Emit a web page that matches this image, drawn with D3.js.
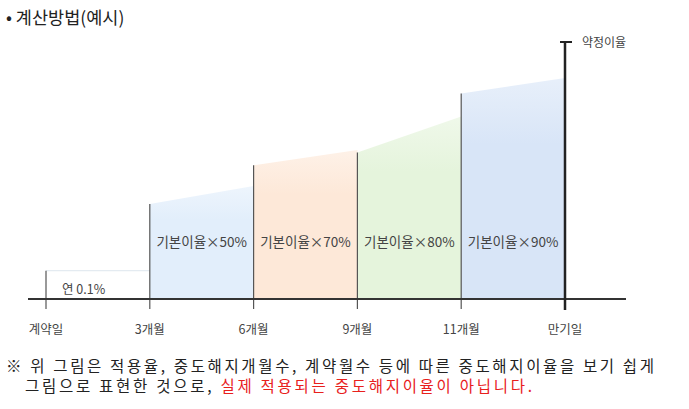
<!DOCTYPE html><html><head><meta charset="utf-8"><script src="https://cdn.jsdelivr.net/npm/d3@7"></script>
<style>body{margin:0;background:#fff}</style></head><body><svg id="c" width="689" height="409"></svg>
<script>
const ticks=["계약일","3개월","6개월","9개월","11개월","만기일"];
const segStart=[0.11,0.37,0.52,0.57,0.80];
const segEnd=[0.11,0.44,0.58,0.71,0.86];
const labels=["연 0.1%","기본이율×50%","기본이율×70%","기본이율×80%","기본이율×90%"];
const colors=["#ffffff","#e2eefb","#fde8d8","#e5f4dc","#d8e5f7"];
const svg=d3.select("#c");
const font="'Noto Sans CJK KR','Noto Sans',sans-serif";
const x=d3.scalePoint().domain(ticks).range([46,565]);
const y=d3.scaleLinear().domain([0,1]).range([299,42]);
const defs=svg.append("defs");
colors.forEach((c,i)=>{const g=defs.append("linearGradient").attr("id","g"+i).attr("x1",0).attr("y1",0).attr("x2",0).attr("y2",1);
g.append("stop").attr("offset",0).attr("stop-color",c).attr("stop-opacity",0.6);g.append("stop").attr("offset",0.3).attr("stop-color",c);g.append("stop").attr("offset",1).attr("stop-color",c);});
for(let i=0;i<5;i++){
 const x0=x(ticks[i]),x1=x(ticks[i+1]);
 svg.append("path").attr("d",`M${x0},${y(0)}L${x0},${y(segStart[i])}L${x1},${y(segEnd[i])}L${x1},${y(0)}Z`).attr("fill",i==0?"none":`url(#g${i})`);
 if(i==0) svg.append("line").attr("x1",x0).attr("x2",x1).attr("y1",y(segStart[0])).attr("y2",y(segStart[0])).attr("stroke","#dde6ee");
 svg.append("line").attr("x1",x0).attr("x2",x0).attr("y1",y(segStart[i])).attr("y2",y(0)+10).attr("stroke","#555").attr("stroke-width",1.2);
 svg.append("text").attr("x",i==0?x0+16:(x0+x1)/2).attr("y",i==0?294:247).attr("text-anchor",i==0?"start":"middle")
  .attr("font-family",font).attr("font-size",i==0?12.5:13.5).attr("fill","#444").text(labels[i]);
}
svg.append("line").attr("x1",28).attr("x2",626).attr("y1",y(0)).attr("y2",y(0)).attr("stroke","#333").attr("stroke-width",2);
svg.append("line").attr("x1",x("만기일")).attr("x2",x("만기일")).attr("y1",y(1)).attr("y2",y(0)+11).attr("stroke","#222").attr("stroke-width",2.5);
svg.append("line").attr("x1",x("만기일")-5).attr("x2",x("만기일")+7).attr("y1",y(1)).attr("y2",y(1)).attr("stroke","#222").attr("stroke-width",2);
svg.append("text").attr("x",582).attr("y",47).attr("font-family",font).attr("font-size",12).attr("fill","#444").text("약정이율");
ticks.forEach(t=>svg.append("text").attr("x",x(t)).attr("y",334).attr("text-anchor","middle").attr("font-family",font).attr("font-size",12.5).attr("fill","#444").text(t));
svg.append("text").attr("x",6).attr("y",24).attr("font-family",font).attr("font-size",17.5).attr("fill","#222").text("• 계산방법(예시)");
svg.append("text").attr("x",6).attr("y",372).attr("font-family",font).attr("font-size",15.5).attr("fill","#222")
 .attr("textLength",648).attr("lengthAdjust","spacing").text("※ 위 그림은 적용율, 중도해지개월수, 계약월수 등에 따른 중도해지이율을 보기 쉽게");
const t2=svg.append("text").attr("x",25).attr("y",392).attr("font-family",font).attr("font-size",15.5).attr("fill","#222")
 .attr("textLength",507).attr("lengthAdjust","spacing");
t2.append("tspan").text("그림으로 표현한 것으로, ");t2.append("tspan").attr("fill","#e8201c").text("실제 적용되는 중도해지이율이 아닙니다.");
</script></body></html>
